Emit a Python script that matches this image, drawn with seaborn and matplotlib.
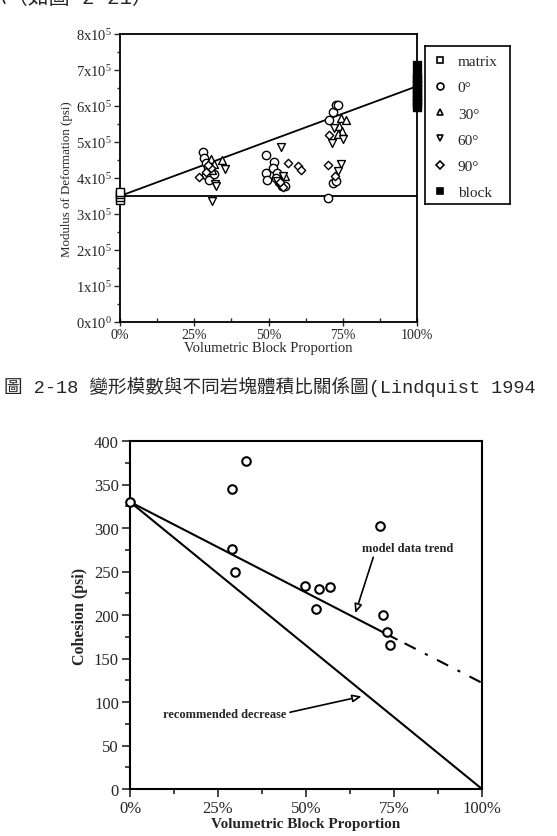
import matplotlib
matplotlib.use('Agg')
import matplotlib.pyplot as plt
import seaborn as sns
import pandas as pd
from matplotlib.lines import Line2D
from matplotlib.ticker import MultipleLocator, FixedLocator, FixedFormatter

sns.set_theme(style='ticks')
plt.rcParams['font.family'] = ['Liberation Serif', 'DejaVu Serif']
plt.rcParams['mathtext.fontset'] = 'custom'
plt.rcParams['mathtext.rm'] = 'Liberation Serif'
plt.rcParams['mathtext.it'] = 'Liberation Serif:italic'
plt.rcParams['mathtext.bf'] = 'Liberation Serif:bold'

# ---- top chart: modulus of deformation (psi) vs block proportion (%) ----
matrix_x = [0, 0, 0, 0]
matrix_y = [340000, 347000, 355000, 362000]

deg0_x = [28.0, 28.3, 28.8, 29.5, 30.5, 29.0, 30.0, 31.5,
          49.3, 49.0, 49.5, 52.0, 51.5, 53.0, 52.5, 53.5, 54.5, 55.5,
          70.5, 71.8, 72.8, 73.3, 71.8, 72.8, 70.0]
deg0_y = [472000, 455000, 442000, 430000, 418000, 408000, 395000, 412000,
          463000, 415000, 395000, 445000, 428000, 415000, 400000, 388000, 378000, 378000,
          562000, 582000, 602000, 603000, 387000, 392000, 345000]

deg30_x = [30.5, 31.5, 34.3, 31.0, 55.5, 74.5, 76.0, 73.8, 74.8, 73.5]
deg30_y = [452000, 440000, 450000, 422000, 405000, 568000, 562000, 545000, 530000, 522000]

deg60_x = [32.0, 32.3, 35.5, 31.0, 54.3, 55.0, 53.0, 71.5, 75.0, 74.5, 73.5, 72.0]
deg60_y = [382000, 377000, 424000, 335000, 487000, 405000, 392000, 497000, 507000, 438000, 420000, 540000]

deg90_x = [26.5, 28.8, 30.5, 29.5, 56.5, 60.0, 61.0, 55.0, 54.0, 70.5, 70.0, 72.5]
deg90_y = [403000, 418000, 428000, 435000, 442000, 432000, 423000, 375000, 390000, 520000, 435000, 405000]

block_x = [100] * 11
block_y = [597000, 607000, 617000, 627000, 637000, 647000, 657000, 667000, 677000, 690000, 715000]

trend_x = [0, 100]
trend_y = [350000, 655000]
matrix_line_x = [0, 100]
matrix_line_y = [350000, 350000]

mod_ticks = [0, 100000, 200000, 300000, 400000, 500000, 600000, 700000, 800000]
mod_tick_labels = [r'$0\mathrm{x}10^{0}$'] + [r'$%d\mathrm{x}10^{5}$' % i for i in range(1, 9)]
pct_ticks = [0, 25, 50, 75, 100]
pct_labels = ['0%', '25%', '50%', '75%', '100%']

# ---- bottom chart: cohesion (psi) vs block proportion (%) ----
coh_x = [0, 28.9, 33.0, 28.9, 29.9, 49.8, 52.9, 53.6, 56.7, 70.9, 71.8, 73.0, 73.9]
coh_y = [330, 345, 377, 276, 250, 233, 207, 230, 232, 302, 200, 181, 165]
model_x = [0, 75.8]
model_y = [330, 172]
model_ext_x = [78, 100]
model_ext_y = [167.5, 122]
recommend_x = [0, 100]
recommend_y = [330, 0]

W, H = 557, 837
fig = plt.figure(figsize=(W / 100, H / 100), dpi=100)

# top axes
ax1 = fig.add_axes([120 / W, 1 - 323 / H, 297 / W, 288 / H])
sns.lineplot(x=trend_x, y=trend_y, ax=ax1, color='black', lw=1.3)
sns.lineplot(x=matrix_line_x, y=matrix_line_y, ax=ax1, color='black', lw=1.3)

groups = [
    ('matrix', matrix_x, matrix_y, 's', 'white', 32),
    ('0°', deg0_x, deg0_y, 'o', 'white', 36),
    ('30°', deg30_x, deg30_y, '^', 'white', 32),
    ('60°', deg60_x, deg60_y, 'v', 'white', 32),
    ('90°', deg90_x, deg90_y, 'D', 'white', 18),
    ('block', block_x, block_y, 's', 'black', 28),
]
for name, gx, gy, mk, fc, size in groups:
    sns.scatterplot(x=gx, y=gy, ax=ax1, marker=mk, color=fc, edgecolor='black',
                    linewidth=1.0, s=size, zorder=3, clip_on=False)

ax1.set_xlim(0, 100)
ax1.set_ylim(0, 800000)
ax1.xaxis.set_major_locator(FixedLocator(pct_ticks))
ax1.xaxis.set_major_formatter(FixedFormatter(pct_labels))
ax1.xaxis.set_minor_locator(MultipleLocator(12.5))
ax1.yaxis.set_major_locator(FixedLocator(mod_ticks))
ax1.yaxis.set_major_formatter(FixedFormatter(mod_tick_labels))
ax1.yaxis.set_minor_locator(MultipleLocator(50000))
ax1.tick_params(axis='x', which='major', direction='inout', length=6, width=1, labelsize=10, pad=1.5)
ax1.tick_params(axis='x', which='minor', direction='in', length=3, width=1)
ax1.tick_params(axis='y', which='major', direction='out', length=4, width=1, labelsize=10.5, pad=1.5)
ax1.tick_params(axis='y', which='minor', direction='out', length=2.5, width=1)
for sp in ax1.spines.values():
    sp.set_linewidth(1.3)
    sp.set_color('black')
ax1.set_xlabel('Volumetric Block Proportion', fontsize=10.5, labelpad=0)
ax1.set_ylabel('Modulus of Deformation (psi)', fontsize=9.3, labelpad=2)

# legend box to the right of the top chart
axl = fig.add_axes([425 / W, 1 - 205 / H, 85 / W, 158 / H])
axl.set_xticks([])
axl.set_yticks([])
for sp in axl.spines.values():
    sp.set_linewidth(1.2)
    sp.set_color('black')
handles = [Line2D([], [], ls='none', marker=mk, markerfacecolor=fc, markeredgecolor='black',
                  markersize=5 if mk != 'D' else 4, markeredgewidth=1.2, label=name)
           for name, gx, gy, mk, fc, size in groups]
axl.legend(handles=handles, loc='upper left', frameon=False, fontsize=11,
           labelspacing=0.82, handlelength=0.9, handletextpad=0.7, borderpad=0.1,
           borderaxespad=0.45)

# bottom axes
ax2 = fig.add_axes([130 / W, 1 - 790 / H, 352 / W, 348 / H])
sns.lineplot(x=recommend_x, y=recommend_y, ax=ax2, color='black', lw=1.5)
sns.lineplot(x=model_x, y=model_y, ax=ax2, color='black', lw=1.5)
sns.lineplot(x=model_ext_x, y=model_ext_y, ax=ax2, color='black', lw=1.5,
             linestyle=(0, (6, 5, 1.5, 5)))
sns.scatterplot(x=coh_x, y=coh_y, ax=ax2, marker='o', color='white', edgecolor='black',
                linewidth=1.5, s=38, zorder=3, clip_on=False)
ax2.set_xlim(0, 100)
ax2.set_ylim(0, 400)
ax2.xaxis.set_major_locator(FixedLocator(pct_ticks))
ax2.xaxis.set_major_formatter(FixedFormatter(pct_labels))
ax2.xaxis.set_minor_locator(MultipleLocator(12.5))
ax2.yaxis.set_major_locator(MultipleLocator(50))
ax2.yaxis.set_minor_locator(MultipleLocator(25))
ax2.tick_params(axis='both', which='major', direction='out', length=6, width=1.2, labelsize=12, pad=2)
ax2.tick_params(axis='both', which='minor', direction='out', length=3.5, width=1.2)
for sp in ax2.spines.values():
    sp.set_linewidth(1.5)
    sp.set_color('black')
ax2.set_xlabel('Volumetric Block Proportion', fontsize=11, fontweight='bold', labelpad=1)
ax2.set_ylabel('Cohesion (psi)', fontsize=11.5, fontweight='bold', labelpad=4)

arrow = dict(arrowstyle='-|>,head_length=0.6,head_width=0.25', fc='white', ec='black',
             lw=1.2, shrinkA=0, shrinkB=0)
ax2.annotate('model data trend', xy=(64, 202), xytext=(79, 277), ha='center', va='center',
             fontsize=9, fontweight='bold', arrowprops=dict(arrow, relpos=(0.13, 0)))
ax2.annotate('recommended decrease', xy=(65.8, 106.5), xytext=(27, 86), ha='center', va='center',
             fontsize=9, fontweight='bold', arrowprops=dict(arrow, relpos=(1.0, 0.6)))

# page text around the charts
fig.text(-14 / W, 1 - 4 / H, '示（如圖 2-21）', fontsize=15, va='baseline', ha='left',
         family=['Liberation Mono', 'Noto Sans CJK TC'])
fig.text(4 / W, 1 - 393 / H, '圖 2-18 變形模數與不同岩塊體積比關係圖(Lindquist 1994',
         fontsize=13.4, va='baseline', ha='left', family=['Liberation Mono', 'Noto Sans CJK TC'])

fig.savefig('out.png', dpi=100, facecolor='white')
